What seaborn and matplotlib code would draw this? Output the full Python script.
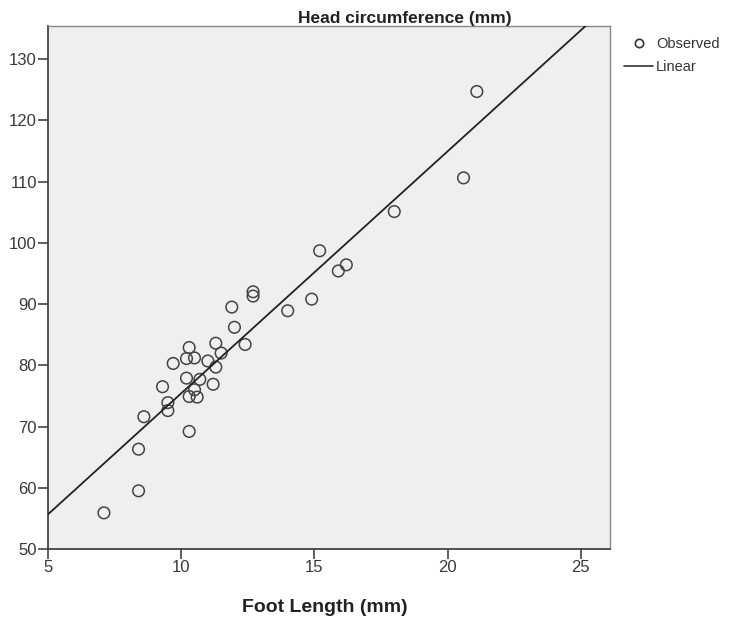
import numpy as np
import pandas as pd
import matplotlib
matplotlib.use("Agg")
import matplotlib.pyplot as plt
import seaborn as sns
from matplotlib.lines import Line2D

foot_length = [7.1, 8.4, 8.4, 8.6, 9.3, 9.5, 9.5, 9.7, 10.2, 10.2, 10.3, 10.3, 10.3,
               10.5, 10.5, 10.6, 10.7, 11.0, 11.2, 11.3, 11.3, 11.5, 11.9, 12.0, 12.4,
               12.7, 12.7, 14.0, 14.9, 15.2, 15.9, 16.2, 18.0, 20.6, 21.1]
head_circ = [55.9, 59.5, 66.3, 71.6, 76.5, 73.9, 72.6, 80.3, 77.9, 81.1, 82.9, 74.9, 69.2,
             81.2, 76.0, 74.8, 77.7, 80.7, 76.9, 79.7, 83.6, 82.0, 89.5, 86.2, 83.4,
             92.0, 91.3, 88.9, 90.8, 98.7, 95.4, 96.4, 105.1, 110.6, 124.7]
x_ticks = [5, 10, 15, 20, 25]
y_ticks = [50, 60, 70, 80, 90, 100, 110, 120, 130]
title = "Head circumference (mm)"
x_label = "Foot Length (mm)"
legend_labels = ["Observed", "Linear"]

df = pd.DataFrame({"foot": foot_length, "head": head_circ})

sns.set_style("white")
plt.rcParams['font.family'] = ['Liberation Sans', 'DejaVu Sans']

fig = plt.figure(figsize=(7.30, 6.21), dpi=100)
ax = fig.add_axes([48/730, 1-549/621, (610-48)/730, (549-26)/621])
ax.set_facecolor("#efefef")
ax.set_xlim(5, 26.1)
ax.set_ylim(50, 135.4)

sns.scatterplot(data=df, x="foot", y="head", ax=ax, marker="o", s=70,
                facecolor="none", edgecolor="#444444", linewidth=1.1, zorder=3)
sns.regplot(data=df, x="foot", y="head", ax=ax, scatter=False, ci=None,
            truncate=False, line_kws=dict(color="#222222", lw=1.3, zorder=4))
ax.set_xlim(5, 26.1)
ax.set_ylim(50, 135.4)

ax.set_xticks(x_ticks)
ax.set_yticks(y_ticks)
ax.tick_params(axis="both", direction="out", length=7, width=1.2, color="#444444",
               labelsize=12, labelcolor="#3a3a3a", bottom=True, left=True, pad=1)
ax.set_xlabel("")
ax.set_ylabel("")
for side in ["left", "bottom"]:
    ax.spines[side].set_color("#444444")
    ax.spines[side].set_linewidth(1.3)
for side in ["top", "right"]:
    ax.spines[side].set_color("#888888")
    ax.spines[side].set_linewidth(1.0)

fig.text(405/730, 1-18/621, title, ha="center", va="center", fontsize=12.5,
         fontweight="bold", color="#222222")
fig.text(325/730, 1-607/621, x_label, ha="center", va="center", fontsize=14,
         fontweight="bold", color="#222222")

handles = [Line2D([], [], marker="o", ls="none", mfc="none", mec="#333333", ms=6, mew=1.2),
           Line2D([], [], color="#333333", lw=1.2)]
leg = fig.legend(handles, legend_labels, loc="upper left", bbox_to_anchor=(624/730, 1-37/621),
                 frameon=False, fontsize=10.5, handlelength=2.0, handletextpad=0.2,
                 labelspacing=0.6, borderaxespad=0, borderpad=0)
for t in leg.get_texts():
    t.set_color("#333333")

fig.savefig("out.png", dpi=100, facecolor="white")
